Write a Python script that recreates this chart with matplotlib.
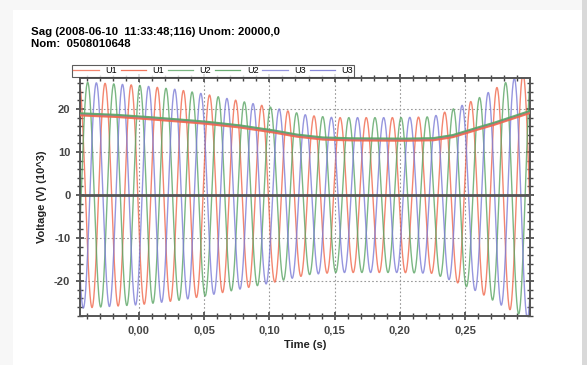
import numpy as np
import matplotlib
matplotlib.use("Agg")
from matplotlib import pyplot as plt
from matplotlib.ticker import MultipleLocator, FuncFormatter
from matplotlib.patches import Rectangle

plt.rcParams['font.family'] = ['Liberation Sans', 'DejaVu Sans']

# Envelope (peak amplitude, kV)
amp_t = [-0.045, 0.00, 0.03, 0.05, 0.10, 0.13, 0.15, 0.20, 0.225, 0.245, 0.26, 0.28, 0.30]
amp_v = [26.3, 25.5, 24.5, 23.5, 20.5, 18.5, 18.0, 18.0, 18.2, 20.5, 22.5, 26.0, 29.0]

# RMS curves (kV)
rms_t = [-0.045, -0.02, 0.00, 0.03, 0.05, 0.075, 0.10, 0.12, 0.14, 0.16, 0.20, 0.225,
         0.24, 0.255, 0.27, 0.285, 0.30]
rms_v = [18.6, 18.3, 17.9, 17.2, 16.7, 15.9, 14.8, 13.7, 13.0, 12.8, 12.7, 12.8,
         13.5, 14.9, 16.2, 17.7, 19.2]

# time of first red (U1) peak, s; 50 Hz system
red_peak = 0.0142
freq = 50.0
phases = ["U1", "U2", "U3"]
phase_shift = {"U1": 0.0, "U2": 1 / 150, "U3": 2 / 150}
colors = {"U1": "#f0684c", "U2": "#5aa564", "U3": "#7c7cd6"}
rms_offset = {"U1": -0.1, "U2": 0.4, "U3": 0.15}
rms_z = {"U1": 3.3, "U2": 3.2, "U3": 3.1}

fig = plt.figure(figsize=(5.87, 3.65), dpi=100)
fig.patch.set_facecolor("#f7f7f7")
fig.add_artist(Rectangle((13 / 587, 0), (582 - 13) / 587, 1 - 10 / 365,
                         transform=fig.transFigure, facecolor="white", edgecolor="none", zorder=0))
fig.add_artist(Rectangle((582 / 587, 0), 5 / 587, 1, transform=fig.transFigure,
                         facecolor="#d9d9d9", edgecolor="none", zorder=0))

ax = fig.add_axes([80 / 587, 1 - 316 / 365, 450 / 587, 238 / 365])
ax.set_facecolor("white")

t = np.linspace(-0.045, 0.30, 4000)
env = np.interp(t, amp_t, amp_v)
handles = []
for name in phases:
    wave = env * np.cos(2 * np.pi * freq * (t - red_peak - phase_shift[name]))
    lw, = ax.plot(t, wave, color=colors[name], lw=1.0, alpha=0.8, label=name, zorder=2)
    handles.append(lw)
for name in phases:
    rv = np.interp(t, rms_t, rms_v) + rms_offset[name]
    lr, = ax.plot(t, rv, color=colors[name], lw=1.5, alpha=0.9, label=name, zorder=rms_z[name])
    handles.insert(2 * phases.index(name) + 1, lr)

ax.axhline(0, color="#555555", lw=2, zorder=4)

ax.set_xlim(-0.045, 0.2996)
ax.set_ylim(-28.1, 27.2)
ax.xaxis.set_major_locator(MultipleLocator(0.05))
ax.xaxis.set_minor_locator(MultipleLocator(0.01))
ax.yaxis.set_major_locator(MultipleLocator(10))
ax.yaxis.set_minor_locator(MultipleLocator(2))
ax.xaxis.set_major_formatter(FuncFormatter(lambda x, pos: ('%.2f' % x).replace('.', ',').replace('-0,00', '0,00')))
ax.yaxis.set_major_formatter(FuncFormatter(lambda y, pos: '%d' % round(y)))
ax.grid(True, which="major", color="#999999", lw=0.8, linestyle=(0, (1.5, 2)))
ax.tick_params(which="both", direction="inout", top=True, right=True, colors="#444444",
               labelsize=8, labelcolor="#444444")
ax.tick_params(which="major", length=6, width=1.2, pad=4)
ax.tick_params(which="minor", length=4, width=1.0)
for lab in ax.get_xticklabels() + ax.get_yticklabels():
    lab.set_fontweight("bold")
for s in ax.spines.values():
    s.set_color("#555555")
    s.set_linewidth(1.4)

ax.set_xlabel("Time (s)", fontsize=8, fontweight="bold", labelpad=3, color="#222222")
ax.set_ylabel("Voltage (V) (10^3)", fontsize=8, fontweight="bold", labelpad=5, color="#222222")

fig.text(31 / 587, 1 - 32 / 365, "Sag (2008-06-10  11:33:48;116) Unom: 20000,0",
         fontsize=8.2, fontweight="bold", va="center")
fig.text(31 / 587, 1 - 44 / 365, "Nom:  0508010648",
         fontsize=8.2, fontweight="bold", va="center")

leg = fig.legend(handles=handles, labels=["U1", "U1", "U2", "U2", "U3", "U3"], ncol=6,
                 loc="upper left", bbox_to_anchor=(72 / 587, 1 - 65 / 365),
                 fontsize=6.5, frameon=True, fancybox=False, handlelength=2.8,
                 handletextpad=0.7, columnspacing=0.45, borderpad=0.15, borderaxespad=0)
leg.get_frame().set_edgecolor("#333333")
leg.get_frame().set_linewidth(0.8)
for h in leg.legend_handles:
    h.set_linewidth(0.9)

fig.savefig("out.png", dpi=100, facecolor=fig.get_facecolor())
